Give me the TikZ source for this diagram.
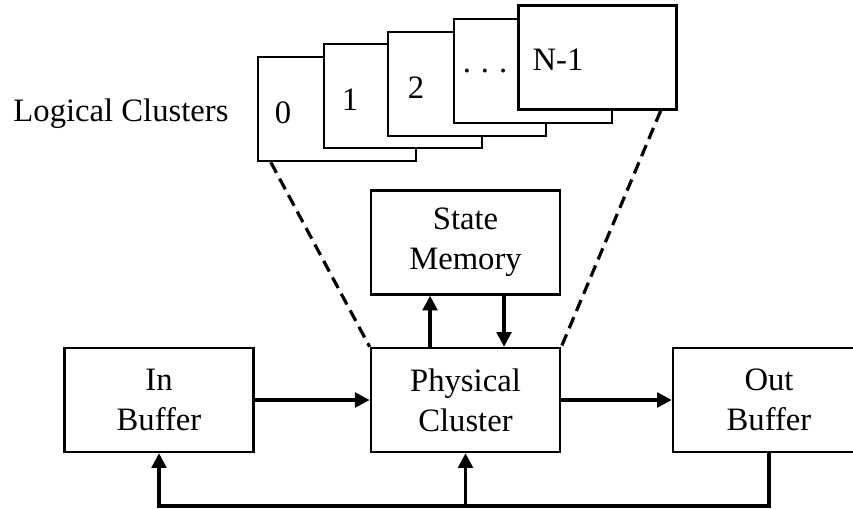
\documentclass[tikz,border=0pt]{standalone}
\usepackage{fontspec}
\setmainfont{Liberation Serif}
\usetikzlibrary{arrows.meta}
\begin{document}
\begin{tikzpicture}[x=0.75pt,y=-0.75pt,
  every node/.style={font=\fontsize{24.5}{30}\selectfont},
  blk/.style={draw,line width=1.8pt,minimum width=142pt,minimum height=78pt,align=center,inner sep=0pt},
  lbox/.style={draw,fill=white,line width=1.8pt,minimum width=118.5pt,minimum height=78pt,inner sep=0pt},
  arr/.style={line width=2.4pt,-{Triangle[length=11pt,width=11pt]}},
  dsh/.style={line width=2.4pt,dash pattern=on 9pt off 5pt}]
\clip (0,0) rectangle (853,508);
% main blocks
\node[blk] (inb) at (159,400) {In\\Buffer};
\node[blk] (phys) at (465.5,400) {Physical\\Cluster};
\node[blk,minimum width=144pt] (outb) at (769,400) {Out\\Buffer};
\node[blk] (mem) at (465.5,242.5) {State\\Memory};
% logical clusters stack
\node[lbox] (l0) at (337,109) {};
\node[lbox] (l1) at (403,96) {};
\node[lbox] (l2) at (467,84) {};
\node[lbox] (l3) at (533,71) {};
\node[lbox] (l4) at (597.5,57.5) {};
\node (t0) at (283,113) {0};
\node (t1) at (350,100) {1};
\node (t2) at (416,88) {2};
\node (t3) at (485,71) {.\hspace{7.5pt}.\hspace{7.5pt}.};
\node (t4) at (558,60) {N-1};
\node[anchor=base] (lc) at (121,121) {Logical Clusters};
% dashed mapping lines
\draw[dsh] ([xshift=10.5pt]l0.south west) -- (phys.north west);
\draw[dsh] ([xshift=-12.75pt]l4.south east) -- (phys.north east);
% data flow
\draw[arr] (inb.east) -- (phys.west);
\draw[arr] (phys.east) -- (outb.west);
\draw[arr] ([xshift=-26.6pt]phys.north) -- ([xshift=-26.6pt]mem.south);
\draw[arr] ([xshift=28.9pt]mem.south) -- ([xshift=28.9pt]phys.north);
% feedback
\coordinate (fb) at (465.5,506);
\draw[arr] (outb.south) |- (fb) -| (inb.south);
\draw[arr] (fb) -- (phys.south);
\end{tikzpicture}
\end{document}
